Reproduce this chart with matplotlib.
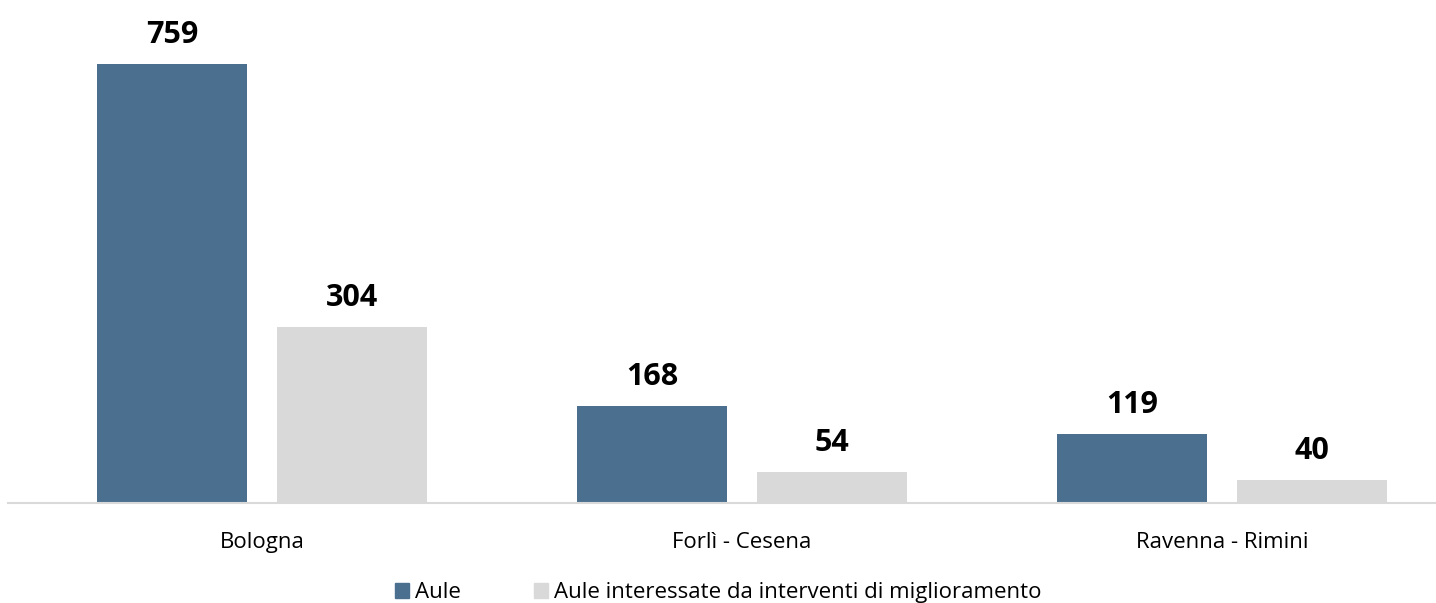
import matplotlib
matplotlib.use("Agg")
import matplotlib.pyplot as plt
from matplotlib.patches import Patch
import numpy as np

plt.rcParams['font.family'] = ['Open Sans', 'Noto Sans', 'DejaVu Sans']

# Data
categories = ['Bologna', 'Forlì - Cesena', 'Ravenna - Rimini']
aule = [759, 168, 119]
aule_migliorate = [304, 54, 40]
series_names = ['Aule', 'Aule interessate da interventi di miglioramento']

blue = '#4a6f8f'
grey = '#d9d9d9'

fig = plt.figure(figsize=(14.36, 6.03), dpi=100)
ax = fig.add_axes([0.0, 100 / 603, 1.0, 503 / 603])

x = np.arange(len(categories))
w = 0.3125
off = 0.1875
b1 = ax.bar(x - off, aule, width=w, color=blue)
b2 = ax.bar(x + off, aule_migliorate, width=w, color=grey)

# value labels above each bar
for bars, vals in ((b1, aule), (b2, aule_migliorate)):
    for rect, v in zip(bars, vals):
        ax.annotate(str(v), (rect.get_x() + rect.get_width() / 2, v),
                    xytext=(0, 15), textcoords='offset points',
                    ha='center', va='baseline', fontsize=22,
                    fontweight='bold', color='black')

ax.set_xlim(-0.546, 2.446)
ax.set_ylim(0, 503 / 0.5784)
ax.set_xticks(x)
ax.set_xticklabels(categories, fontsize=16)
ax.tick_params(axis='x', length=0, pad=21)
ax.set_yticks([])
for s in ('top', 'right', 'left'):
    ax.spines[s].set_visible(False)
ax.spines['bottom'].set_color(grey)
ax.spines['bottom'].set_linewidth(1.5)
ax.spines['bottom'].set_bounds(-0.529, 2.446)

handles = [Patch(color=blue, label=series_names[0]),
           Patch(color=grey, label=series_names[1])]
fig.legend(handles=handles, loc='lower center', bbox_to_anchor=(0.5, -0.033),
           ncol=2, frameon=False, fontsize=16, handlelength=0.65,
           handleheight=0.65, handletextpad=0.25, columnspacing=3.3)

fig.savefig('out.png', dpi=100)
